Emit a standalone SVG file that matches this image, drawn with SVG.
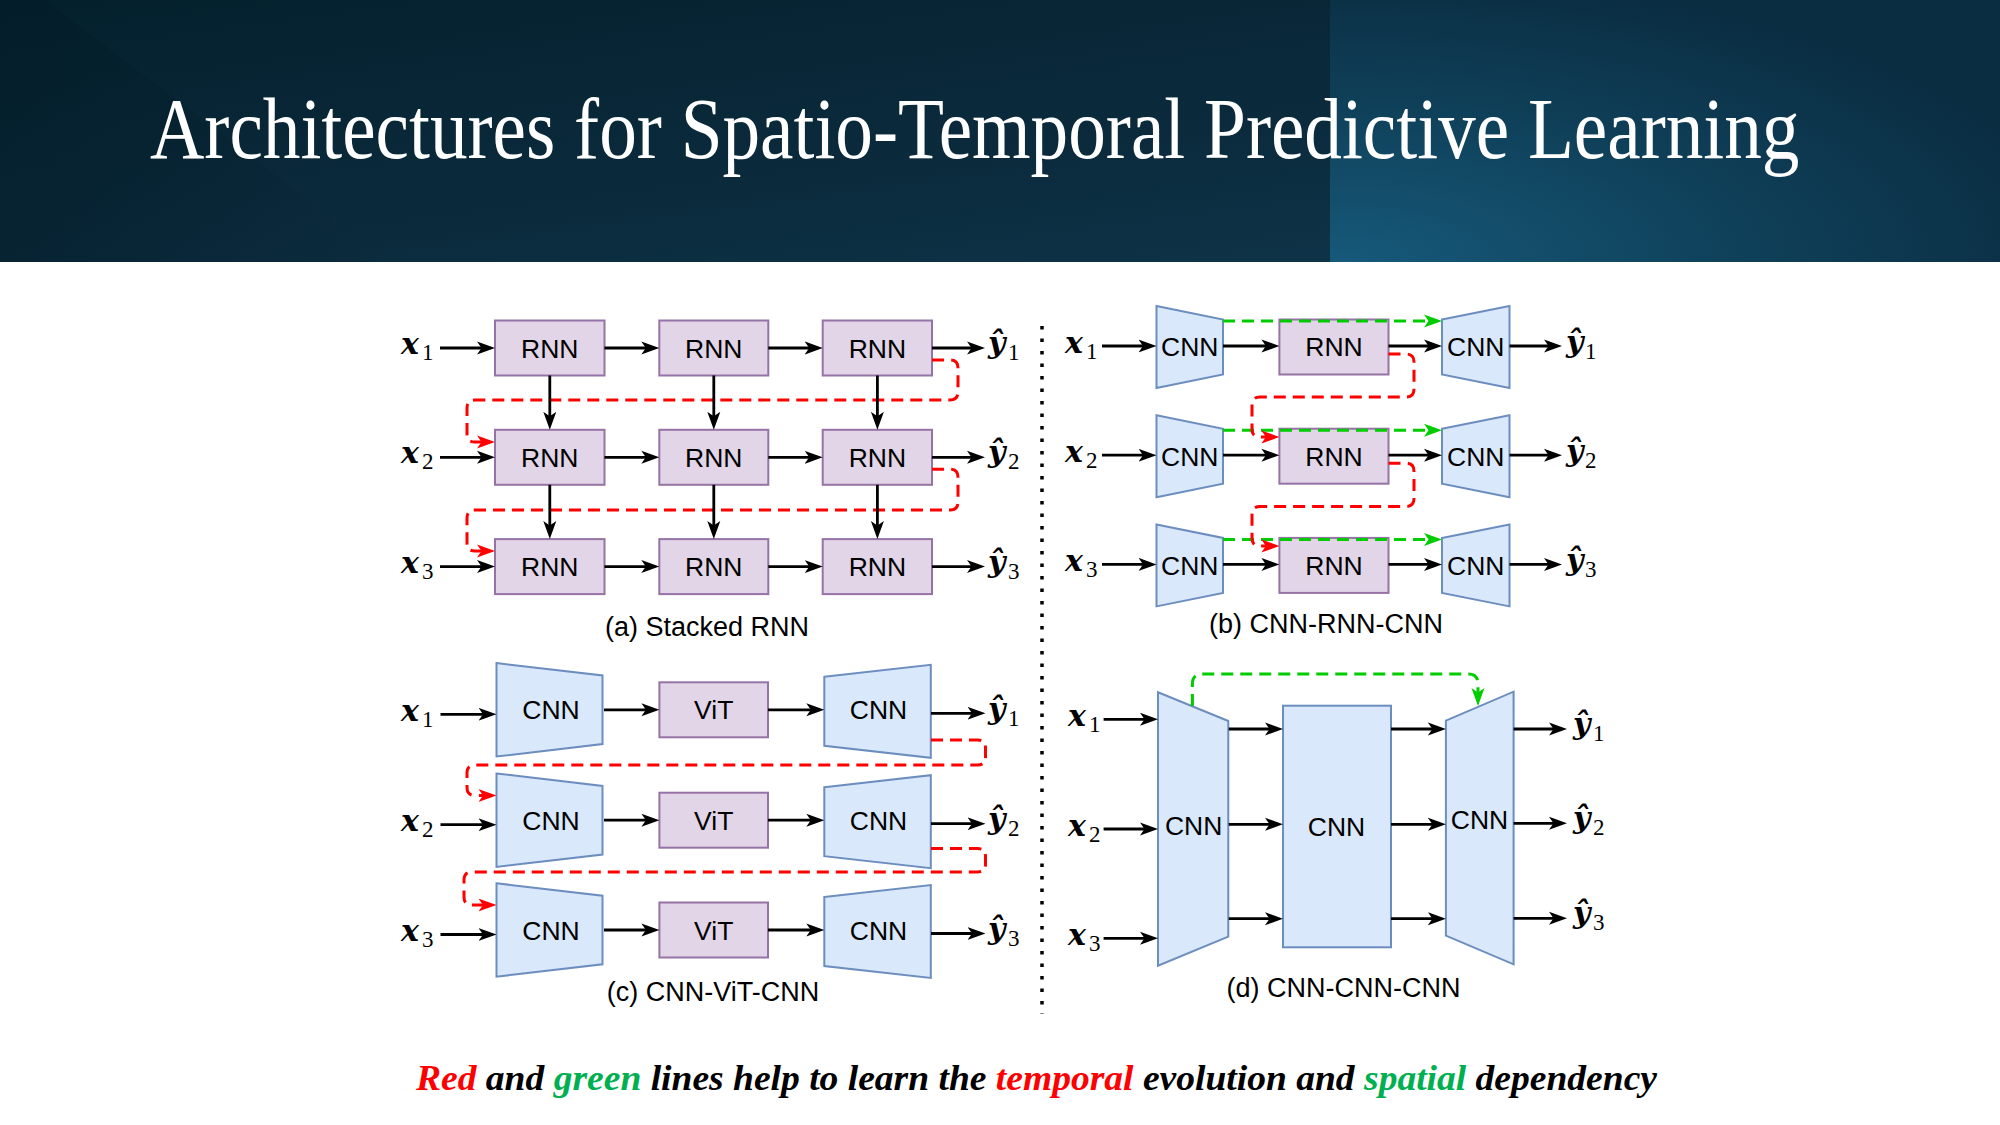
<svg xmlns="http://www.w3.org/2000/svg" width="2000" height="1125" viewBox="0 0 2000 1125">
<defs>
<linearGradient id="hbg" x1="0" y1="0" x2="1" y2="1">
<stop offset="0" stop-color="#04202d"/>
<stop offset="0.55" stop-color="#0b2b3d"/>
<stop offset="1" stop-color="#10374d"/>
</linearGradient>
<linearGradient id="hsh" x1="0" y1="0" x2="1" y2="0">
<stop offset="0" stop-color="#021722" stop-opacity="0.35"/>
<stop offset="1" stop-color="#021722" stop-opacity="0"/>
</linearGradient>
<radialGradient id="hrp" cx="0.02" cy="1" r="1.1" gradientUnits="objectBoundingBox">
<stop offset="0" stop-color="#16597a"/>
<stop offset="0.55" stop-color="#0f4059"/>
<stop offset="1" stop-color="#0a2d42"/>
</radialGradient>
<marker id="ak" markerUnits="userSpaceOnUse" markerWidth="19" markerHeight="15" viewBox="0 0 19 15" refX="12" refY="7.5" orient="auto">
<path d="M0,1 L18,7.5 L0,14 L4.5,7.5 Z" fill="#000"/>
</marker>
<marker id="ar" markerUnits="userSpaceOnUse" markerWidth="19" markerHeight="15" viewBox="0 0 19 15" refX="12" refY="7.5" orient="auto">
<path d="M0,1 L18,7.5 L0,14 L4.5,7.5 Z" fill="#ff0000"/>
</marker>
<marker id="ag" markerUnits="userSpaceOnUse" markerWidth="19" markerHeight="15" viewBox="0 0 19 15" refX="12" refY="7.5" orient="auto">
<path d="M0,1 L18,7.5 L0,14 L4.5,7.5 Z" fill="#00cc00"/>
</marker>
<style>
.rnn{fill:#e1d5e7;stroke:#9673a6;stroke-width:2}
.cnn{fill:#dae8fc;stroke:#6c8ebf;stroke-width:2}
.lbl{font-family:"Liberation Sans",Arial,sans-serif;font-size:26.5px;fill:#000;text-anchor:middle}
.cap{font-family:"Liberation Sans",Arial,sans-serif;font-size:27px;fill:#000;text-anchor:middle}
.mv{font-family:"DejaVu Serif",serif;font-size:30px;font-weight:bold;font-style:italic;fill:#000}
.ms{font-family:"Liberation Serif",serif;font-size:23px;fill:#000}
.a{fill:none;stroke:#000;stroke-width:2.8;marker-end:url(#ak)}
.r{fill:none;stroke:#ff0000;stroke-width:3;stroke-dasharray:12 7;marker-end:url(#ar)}
.g{fill:none;stroke:#00cc00;stroke-width:3;stroke-dasharray:12 7;marker-end:url(#ag)}
</style>
</defs>

<g id="header">
<rect x="0" y="0" width="2000" height="262" fill="url(#hbg)"/>
<polygon points="0,0 45,0 390,262 0,262" fill="url(#hsh)"/>
<rect x="1330" y="0" width="670" height="262" fill="url(#hrp)"/>
<text transform="translate(150,158) scale(0.875,1)" x="0" y="0" font-family="'Liberation Serif','Times New Roman',serif" font-size="86" fill="#ffffff">Architectures for Spatio-Temporal Predictive Learning</text>
</g>

<!-- Panel (a) Stacked RNN -->
<g id="a-rnn-11"><rect class="rnn" x="495" y="320.5" width="109.5" height="55"/><text class="lbl" x="549.8" y="357.5">RNN</text></g>
<g id="a-rnn-12"><rect class="rnn" x="659.3" y="320.5" width="109" height="55"/><text class="lbl" x="713.8" y="357.5">RNN</text></g>
<g id="a-rnn-13"><rect class="rnn" x="822.7" y="320.5" width="109.3" height="55"/><text class="lbl" x="877.4" y="357.5">RNN</text></g>
<g id="a-rnn-21"><rect class="rnn" x="495" y="429.8" width="109.5" height="55"/><text class="lbl" x="549.8" y="466.8">RNN</text></g>
<g id="a-rnn-22"><rect class="rnn" x="659.3" y="429.8" width="109" height="55"/><text class="lbl" x="713.8" y="466.8">RNN</text></g>
<g id="a-rnn-23"><rect class="rnn" x="822.7" y="429.8" width="109.3" height="55"/><text class="lbl" x="877.4" y="466.8">RNN</text></g>
<g id="a-rnn-31"><rect class="rnn" x="495" y="539.1" width="109.5" height="55"/><text class="lbl" x="549.8" y="576.1">RNN</text></g>
<g id="a-rnn-32"><rect class="rnn" x="659.3" y="539.1" width="109" height="55"/><text class="lbl" x="713.8" y="576.1">RNN</text></g>
<g id="a-rnn-33"><rect class="rnn" x="822.7" y="539.1" width="109.3" height="55"/><text class="lbl" x="877.4" y="576.1">RNN</text></g>
<g id="a-labels">
<text x="401" y="354"><tspan class="mv">x</tspan><tspan class="ms" x="422" y="360">1</tspan></text>
<text x="401" y="463.3"><tspan class="mv">x</tspan><tspan class="ms" x="422" y="469.3">2</tspan></text>
<text x="401" y="572.6"><tspan class="mv">x</tspan><tspan class="ms" x="422" y="578.6">3</tspan></text>
<text x="988" y="353"><tspan class="mv">ŷ</tspan><tspan class="ms" x="1008" y="360">1</tspan></text>
<text x="988" y="462.3"><tspan class="mv">ŷ</tspan><tspan class="ms" x="1008" y="469.3">2</tspan></text>
<text x="988" y="571.6"><tspan class="mv">ŷ</tspan><tspan class="ms" x="1008" y="578.6">3</tspan></text>
<text class="cap" x="707" y="636">(a) Stacked RNN</text>
</g>

<!-- Panel (b) CNN-RNN-CNN -->
<g id="b-enc-1"><polygon class="cnn" points="1156.5,306 1223,319.5 1223,374.5 1156.5,388"/><text class="lbl" x="1189.8" y="356.3">CNN</text></g>
<g id="b-rnn-1"><rect class="rnn" x="1279.4" y="319.5" width="109.1" height="55"/><text class="lbl" x="1334" y="356.3">RNN</text></g>
<g id="b-dec-1"><polygon class="cnn" points="1442,319.5 1509.5,306 1509.5,388 1442,374.5"/><text class="lbl" x="1475.8" y="356.3">CNN</text></g>
<g id="b-enc-2"><polygon class="cnn" points="1156.5,415.2 1223,428.7 1223,483.7 1156.5,497.2"/><text class="lbl" x="1189.8" y="465.5">CNN</text></g>
<g id="b-rnn-2"><rect class="rnn" x="1279.4" y="428.7" width="109.1" height="55"/><text class="lbl" x="1334" y="465.5">RNN</text></g>
<g id="b-dec-2"><polygon class="cnn" points="1442,428.7 1509.5,415.2 1509.5,497.2 1442,483.7"/><text class="lbl" x="1475.8" y="465.5">CNN</text></g>
<g id="b-enc-3"><polygon class="cnn" points="1156.5,524.4 1223,537.9 1223,592.9 1156.5,606.4"/><text class="lbl" x="1189.8" y="574.7">CNN</text></g>
<g id="b-rnn-3"><rect class="rnn" x="1279.4" y="537.9" width="109.1" height="55"/><text class="lbl" x="1334" y="574.7">RNN</text></g>
<g id="b-dec-3"><polygon class="cnn" points="1442,537.9 1509.5,524.4 1509.5,606.4 1442,592.9"/><text class="lbl" x="1475.8" y="574.7">CNN</text></g>
<g id="b-labels">
<text x="1065" y="353"><tspan class="mv">x</tspan><tspan class="ms" x="1086" y="359">1</tspan></text>
<text x="1065" y="462.2"><tspan class="mv">x</tspan><tspan class="ms" x="1086" y="468.2">2</tspan></text>
<text x="1065" y="571.4"><tspan class="mv">x</tspan><tspan class="ms" x="1086" y="577.4">3</tspan></text>
<text x="1566" y="352"><tspan class="mv">ŷ</tspan><tspan class="ms" x="1585" y="359">1</tspan></text>
<text x="1566" y="461.2"><tspan class="mv">ŷ</tspan><tspan class="ms" x="1585" y="468.2">2</tspan></text>
<text x="1566" y="570.4"><tspan class="mv">ŷ</tspan><tspan class="ms" x="1585" y="577.4">3</tspan></text>
<text class="cap" x="1326" y="633">(b) CNN-RNN-CNN</text>
</g>

<!-- Panel (c) CNN-ViT-CNN -->
<g id="c-enc-1"><polygon class="cnn" points="496.5,663.1 602.5,675.5 602.5,744.1 496.5,756.5"/><text class="lbl" x="551" y="719.3">CNN</text></g>
<g id="c-vit-1"><rect class="rnn" x="659.4" y="682.3" width="108.6" height="55"/><text class="lbl" x="713.7" y="719.3">ViT</text></g>
<g id="c-dec-1"><polygon class="cnn" points="824.3,676.8 930.8,664.8 930.8,757.8 824.3,745.8"/><text class="lbl" x="878.5" y="719.3">CNN</text></g>
<g id="c-enc-2"><polygon class="cnn" points="496.5,773.5 602.5,785.9 602.5,854.5 496.5,866.9"/><text class="lbl" x="551" y="829.7">CNN</text></g>
<g id="c-vit-2"><rect class="rnn" x="659.4" y="792.7" width="108.6" height="55"/><text class="lbl" x="713.7" y="829.7">ViT</text></g>
<g id="c-dec-2"><polygon class="cnn" points="824.3,787.2 930.8,775.2 930.8,868.2 824.3,856.2"/><text class="lbl" x="878.5" y="829.7">CNN</text></g>
<g id="c-enc-3"><polygon class="cnn" points="496.5,883.3 602.5,895.7 602.5,964.3 496.5,976.7"/><text class="lbl" x="551" y="939.5">CNN</text></g>
<g id="c-vit-3"><rect class="rnn" x="659.4" y="902.5" width="108.6" height="55"/><text class="lbl" x="713.7" y="939.5">ViT</text></g>
<g id="c-dec-3"><polygon class="cnn" points="824.3,897 930.8,885 930.8,978 824.3,966"/><text class="lbl" x="878.5" y="939.5">CNN</text></g>
<g id="c-labels">
<text x="401" y="721"><tspan class="mv">x</tspan><tspan class="ms" x="422" y="727">1</tspan></text>
<text x="401" y="831.4"><tspan class="mv">x</tspan><tspan class="ms" x="422" y="837.4">2</tspan></text>
<text x="401" y="941.2"><tspan class="mv">x</tspan><tspan class="ms" x="422" y="947.2">3</tspan></text>
<text x="988" y="718.5"><tspan class="mv">ŷ</tspan><tspan class="ms" x="1008" y="725.5">1</tspan></text>
<text x="988" y="828.9"><tspan class="mv">ŷ</tspan><tspan class="ms" x="1008" y="835.9">2</tspan></text>
<text x="988" y="938.7"><tspan class="mv">ŷ</tspan><tspan class="ms" x="1008" y="945.7">3</tspan></text>
<text class="cap" x="713" y="1001">(c) CNN-ViT-CNN</text>
</g>

<!-- Panel (d) CNN-CNN-CNN -->
<g id="d-enc"><polygon class="cnn" points="1158,692.3 1228.3,721 1228.3,936.7 1158,965.7"/><text class="lbl" x="1193.7" y="835">CNN</text></g>
<g id="d-mid"><rect class="cnn" x="1283" y="705.7" width="108" height="241.6"/><text class="lbl" x="1336.5" y="836">CNN</text></g>
<g id="d-dec"><polygon class="cnn" points="1445.9,720.7 1513.6,691.7 1513.6,964.3 1445.9,935.7"/><text class="lbl" x="1479.5" y="829.3">CNN</text></g>
<g id="d-labels">
<text x="1068" y="726"><tspan class="mv">x</tspan><tspan class="ms" x="1089" y="732">1</tspan></text>
<text x="1068" y="835.7"><tspan class="mv">x</tspan><tspan class="ms" x="1089" y="841.7">2</tspan></text>
<text x="1068" y="945"><tspan class="mv">x</tspan><tspan class="ms" x="1089" y="951">3</tspan></text>
<text x="1573" y="734"><tspan class="mv">ŷ</tspan><tspan class="ms" x="1593" y="741">1</tspan></text>
<text x="1573" y="828.3"><tspan class="mv">ŷ</tspan><tspan class="ms" x="1593" y="835.3">2</tspan></text>
<text x="1573" y="923.3"><tspan class="mv">ŷ</tspan><tspan class="ms" x="1593" y="930.3">3</tspan></text>
<text class="cap" x="1343.5" y="997">(d) CNN-CNN-CNN</text>
</g>

<g id="divider">
<line x1="1042" y1="326" x2="1042" y2="1014" stroke="#000" stroke-width="3.5" stroke-dasharray="3.5 9"/>
</g>

<g id="connectors">
<!-- (a) dashed red -->
<path class="r" d="M932,360 H950 Q958,360 958,368 V392 Q958,400 950,400 H475 Q467,400 467,408 V434 Q467,442 475,442 H489"/>
<path class="r" d="M932,469.3 H950 Q958,469.3 958,477.3 V502 Q958,510 950,510 H475 Q467,510 467,518 V543 Q467,551 475,551 H489"/>
<!-- (a) black horizontal -->
<path class="a" d="M440,348 H489"/>
<path class="a" d="M604.5,348 H653.3"/>
<path class="a" d="M768.3,348 H816.7"/>
<path class="a" d="M932,348 H979"/>
<path class="a" d="M440,457.3 H489"/>
<path class="a" d="M604.5,457.3 H653.3"/>
<path class="a" d="M768.3,457.3 H816.7"/>
<path class="a" d="M932,457.3 H979"/>
<path class="a" d="M440,566.6 H489"/>
<path class="a" d="M604.5,566.6 H653.3"/>
<path class="a" d="M768.3,566.6 H816.7"/>
<path class="a" d="M932,566.6 H979"/>
<!-- (a) black vertical -->
<path class="a" d="M549.8,375.5 V423.8"/>
<path class="a" d="M713.8,375.5 V423.8"/>
<path class="a" d="M877.4,375.5 V423.8"/>
<path class="a" d="M549.8,484.8 V533.1"/>
<path class="a" d="M713.8,484.8 V533.1"/>
<path class="a" d="M877.4,484.8 V533.1"/>

<!-- (b) dashed green -->
<path class="g" d="M1223,321 H1436"/>
<path class="g" d="M1223,430.2 H1436"/>
<path class="g" d="M1223,539.4 H1436"/>
<!-- (b) dashed red -->
<path class="r" d="M1388.5,354 H1406 Q1414,354 1414,362 V389 Q1414,397 1406,397 H1260 Q1252,397 1252,405 V429 Q1252,437 1260,437 H1273.4"/>
<path class="r" d="M1388.5,463.2 H1406 Q1414,463.2 1414,471.2 V498.5 Q1414,506.5 1406,506.5 H1260 Q1252,506.5 1252,514.5 V538 Q1252,546 1260,546 H1273.4"/>
<!-- (b) black -->
<path class="a" d="M1102,346 H1150.5"/>
<path class="a" d="M1223,346 H1273.4"/>
<path class="a" d="M1388.5,346 H1436"/>
<path class="a" d="M1509.5,346 H1556"/>
<path class="a" d="M1102,455.2 H1150.5"/>
<path class="a" d="M1223,455.2 H1273.4"/>
<path class="a" d="M1388.5,455.2 H1436"/>
<path class="a" d="M1509.5,455.2 H1556"/>
<path class="a" d="M1102,564.4 H1150.5"/>
<path class="a" d="M1223,564.4 H1273.4"/>
<path class="a" d="M1388.5,564.4 H1436"/>
<path class="a" d="M1509.5,564.4 H1556"/>

<!-- (c) dashed red -->
<path class="r" d="M931,740 H977.5 Q985.5,740 985.5,748 V757 Q985.5,765 977.5,765 H475 Q467,765 467,773 V787.5 Q467,795.5 475,795.5 H490.5"/>
<path class="r" d="M931,848.5 H977.5 Q985.5,848.5 985.5,856.5 V864 Q985.5,872 977.5,872 H472 Q464,872 464,880 V897 Q464,905 472,905 H490.5"/>
<!-- (c) black -->
<path class="a" d="M440.5,714.3 H490.5"/>
<path class="a" d="M604,709.8 H653.4"/>
<path class="a" d="M768,709.8 H818.3"/>
<path class="a" d="M931,713.3 H979.5"/>
<path class="a" d="M440.5,824.7 H490.5"/>
<path class="a" d="M604,820.2 H653.4"/>
<path class="a" d="M768,820.2 H818.3"/>
<path class="a" d="M931,823.7 H979.5"/>
<path class="a" d="M440.5,934.5 H490.5"/>
<path class="a" d="M604,930 H653.4"/>
<path class="a" d="M768,930 H818.3"/>
<path class="a" d="M931,933.5 H979.5"/>

<!-- (d) dashed green -->
<path class="g" d="M1192.4,706 V684 Q1192.4,674 1202.4,674 H1468 Q1478,674 1478,684 V700"/>
<!-- (d) black -->
<path class="a" d="M1103.6,719.3 H1152"/>
<path class="a" d="M1103.6,829 H1152"/>
<path class="a" d="M1103.6,938.3 H1152"/>
<path class="a" d="M1228.7,729 H1277"/>
<path class="a" d="M1228.7,824.3 H1277"/>
<path class="a" d="M1228.7,918.7 H1277"/>
<path class="a" d="M1391,729 H1439.9"/>
<path class="a" d="M1391,824.3 H1439.9"/>
<path class="a" d="M1391,918.7 H1439.9"/>
<path class="a" d="M1513.6,729 H1561"/>
<path class="a" d="M1513.6,823.3 H1561"/>
<path class="a" d="M1513.6,918.3 H1561"/>
</g>

<g id="footnote">
<text x="416" y="1090" font-family="'Liberation Serif','Times New Roman',serif" font-size="36" font-weight="bold" font-style="italic" fill="#000" textLength="1241" lengthAdjust="spacingAndGlyphs"><tspan fill="#ff0000">Red</tspan> and <tspan fill="#00b050">green</tspan> lines help to learn the <tspan fill="#ff0000">temporal</tspan> evolution and <tspan fill="#00b050">spatial</tspan> dependency</text>
</g>
</svg>
